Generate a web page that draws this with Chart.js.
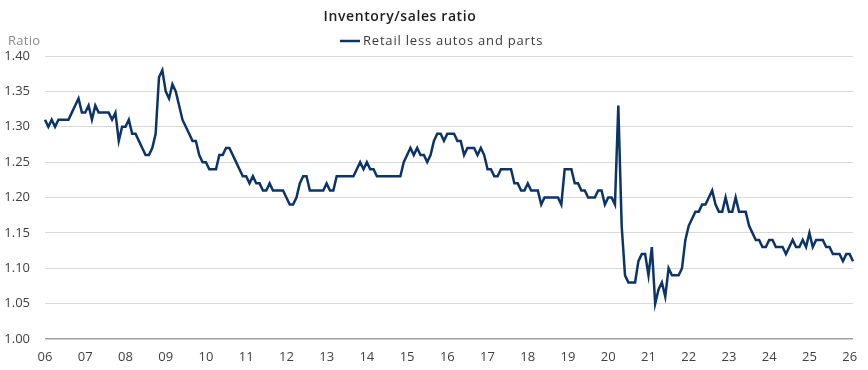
<!DOCTYPE html>
<html>
<head>
<meta charset="utf-8">
<script src="https://cdn.jsdelivr.net/npm/chart.js@4.4.1/dist/chart.umd.min.js"></script>
<style>
  body { margin: 0; background: #fff; }
</style>
</head>
<body>
<canvas id="c" width="868" height="370"></canvas>
<script>
const chartTitle = 'Inventory/sales ratio';
const seriesName = 'Retail less autos and parts';
const axisLabel = 'Ratio';
const years = ['06','07','08','09','10','11','12','13','14','15','16','17','18','19','20','21','22','23','24','25','26'];
const yTicks = [1.00, 1.05, 1.10, 1.15, 1.20, 1.25, 1.30, 1.35, 1.40];

// monthly values, Jan 2006 .. Feb 2026
const ratio = [
  1.31, 1.30, 1.31, 1.30, 1.31, 1.31, 1.31, 1.31, 1.32, 1.33, 1.34, 1.32, // 2006
  1.32, 1.33, 1.31, 1.33, 1.32, 1.32, 1.32, 1.32, 1.31, 1.32, 1.28, 1.30, // 2007
  1.30, 1.31, 1.29, 1.29, 1.28, 1.27, 1.26, 1.26, 1.27, 1.29, 1.37, 1.38, // 2008
  1.35, 1.34, 1.36, 1.35, 1.33, 1.31, 1.30, 1.29, 1.28, 1.28, 1.26, 1.25, // 2009
  1.25, 1.24, 1.24, 1.24, 1.26, 1.26, 1.27, 1.27, 1.26, 1.25, 1.24, 1.23, // 2010
  1.23, 1.22, 1.23, 1.22, 1.22, 1.21, 1.21, 1.22, 1.21, 1.21, 1.21, 1.21, // 2011
  1.20, 1.19, 1.19, 1.20, 1.22, 1.23, 1.23, 1.21, 1.21, 1.21, 1.21, 1.21, // 2012
  1.22, 1.21, 1.21, 1.23, 1.23, 1.23, 1.23, 1.23, 1.23, 1.24, 1.25, 1.24, // 2013
  1.25, 1.24, 1.24, 1.23, 1.23, 1.23, 1.23, 1.23, 1.23, 1.23, 1.23, 1.25, // 2014
  1.26, 1.27, 1.26, 1.27, 1.26, 1.26, 1.25, 1.26, 1.28, 1.29, 1.29, 1.28, // 2015
  1.29, 1.29, 1.29, 1.28, 1.28, 1.26, 1.27, 1.27, 1.27, 1.26, 1.27, 1.26, // 2016
  1.24, 1.24, 1.23, 1.23, 1.24, 1.24, 1.24, 1.24, 1.22, 1.22, 1.21, 1.21, // 2017
  1.22, 1.21, 1.21, 1.21, 1.19, 1.20, 1.20, 1.20, 1.20, 1.20, 1.19, 1.24, // 2018
  1.24, 1.24, 1.22, 1.22, 1.21, 1.21, 1.20, 1.20, 1.20, 1.21, 1.21, 1.19, // 2019
  1.20, 1.20, 1.19, 1.33, 1.16, 1.09, 1.08, 1.08, 1.08, 1.11, 1.12, 1.12, // 2020
  1.09, 1.13, 1.05, 1.07, 1.08, 1.06, 1.10, 1.09, 1.09, 1.09, 1.10, 1.14, // 2021
  1.16, 1.17, 1.18, 1.18, 1.19, 1.19, 1.20, 1.21, 1.19, 1.18, 1.18, 1.20, // 2022
  1.18, 1.18, 1.20, 1.18, 1.18, 1.18, 1.16, 1.15, 1.14, 1.14, 1.13, 1.13, // 2023
  1.14, 1.14, 1.13, 1.13, 1.13, 1.12, 1.13, 1.14, 1.13, 1.13, 1.14, 1.13, // 2024
  1.15, 1.13, 1.14, 1.14, 1.14, 1.13, 1.13, 1.12, 1.12, 1.12, 1.11, 1.12, // 2025
  1.12, 1.11                                                              // 2026
];

// one category per month, label only shown on January
const months = ratio.map((v, i) => years[Math.floor(i / 12)] + '-' + String(i % 12 + 1).padStart(2, '0'));

const navy = '#0c3466';

// title, legend and the "Ratio" caption
const header = {
  id: 'header',
  afterDraw(chart) {
    const ctx = chart.ctx;
    ctx.save();
    ctx.textBaseline = 'middle';
    ctx.textAlign = 'center';
    ctx.fillStyle = '#1d1d1d';
    ctx.font = '600 14px "Open Sans"';
    ctx.letterSpacing = '0.6px';
    ctx.fillText(chartTitle, 400, 17);

    ctx.strokeStyle = navy;
    ctx.lineWidth = 2.5;
    ctx.beginPath();
    ctx.moveTo(340, 41);
    ctx.lineTo(360, 41);
    ctx.stroke();
    ctx.textAlign = 'left';
    ctx.fillStyle = '#3a3a3a';
    ctx.font = '13px "Open Sans"';
    ctx.letterSpacing = '0.8px';
    ctx.fillText(seriesName, 363, 41);

    ctx.fillStyle = '#8a8a8a';
    ctx.letterSpacing = '0.3px';
    ctx.fillText(axisLabel, 8, 41);
    ctx.restore();
  }
};

new Chart(document.getElementById('c').getContext('2d'), {
  type: 'line',
  data: {
    labels: months,
    datasets: [{
      label: seriesName,
      data: ratio,
      borderColor: navy,
      borderWidth: 2.5,
      pointRadius: 0,
      tension: 0,
      fill: false
    }]
  },
  options: {
    responsive: false,
    animation: false,
    layout: { padding: { top: 56, right: 15, left: 0, bottom: 0 } },
    plugins: {
      legend: { display: false },
      title: { display: false },
      tooltip: { enabled: false }
    },
    scales: {
      x: {
        grid: { display: false, drawTicks: false },
        border: { display: false },
        afterFit: s => { s.height = 31; },
        ticks: {
          autoSkip: false,
          maxRotation: 0,
          padding: 10,
          color: '#404040',
          font: { family: 'Open Sans', size: 13 },
          callback: (v, i) => i % 12 === 0 ? years[i / 12] : ''
        }
      },
      y: {
        min: yTicks[0],
        max: yTicks[yTicks.length - 1],
        afterFit: s => { s.width = 45; },
        afterBuildTicks: s => { s.ticks = yTicks.map(v => ({ value: v })); },
        border: { display: false },
        grid: {
          drawTicks: false,
          color: c => c.tick && c.tick.value === 1 ? '#a0a0a0' : '#d9d9d9',
          lineWidth: c => c.tick && c.tick.value === 1 ? 1.5 : 1
        },
        ticks: {
          padding: 15,
          color: '#404040',
          font: { family: 'Open Sans', size: 13 },
          callback: v => v.toFixed(2)
        }
      }
    }
  },
  plugins: [header]
});
</script>
</body>
</html>
